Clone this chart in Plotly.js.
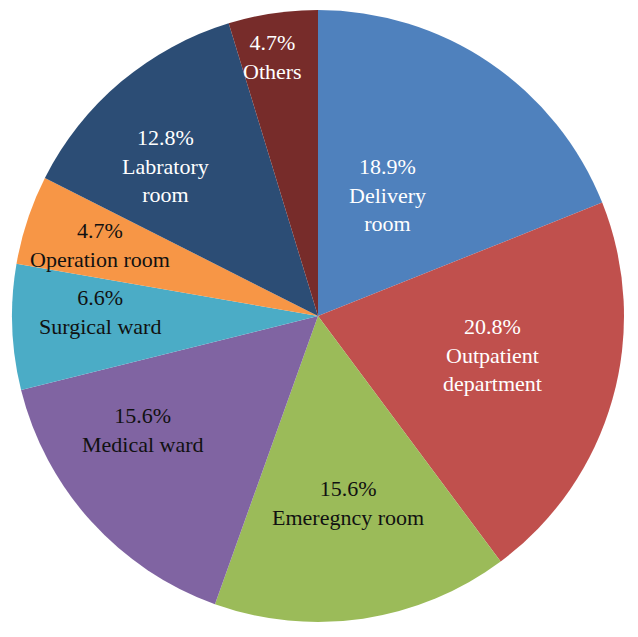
<!DOCTYPE html>
<html>
<head>
<meta charset="utf-8">
<script src="https://cdn.plot.ly/plotly-3.0.1.min.js"></script>
<style>html,body{margin:0;padding:0;background:#fff;}#chart{width:638px;height:637px;}</style>
</head>
<body>
<div id="chart"></div>
<script>
// Data
const categories = ["Delivery room", "Outpatient department", "Emeregncy room", "Medical ward", "Surgical ward", "Operation room", "Labratory room", "Others"];
const percents = [18.9, 20.8, 15.6, 15.6, 6.6, 4.7, 12.8, 4.7];
const labelText = ["Delivery<br>room", "Outpatient<br>department", "Emeregncy room", "Medical ward", "Surgical ward", "Operation room", "Labratory<br>room", "Others"];

// Styles / positions (not data)
const colors = ["#4F81BD", "#C0504D", "#9BBB59", "#8064A2", "#4BACC6", "#F79646", "#2C4D75", "#772C2A"];
const textColors = ["#ffffff", "#ffffff", "#111111", "#111111", "#111111", "#111111", "#ffffff", "#ffffff"];
const labelPx = [[388,195],[492,355],[348,503],[143,430],[100,312],[100,245],[165,166],[272,57]];
const W = 638, H = 637;
const FONT = "Liberation Serif, Times New Roman, serif";

const trace = {
  type: "pie",
  labels: categories,
  values: percents,
  sort: false,
  direction: "clockwise",
  rotation: 0,
  marker: {colors: colors, line: {width: 0}},
  textinfo: "none",
  hoverinfo: "none",
  showlegend: false,
  domain: {x: [12/W, 624/W], y: [1 - 622/H, 1 - 10/H]}
};

const annotations = categories.map((c, i) => ({
  xref: "paper", yref: "paper",
  x: labelPx[i][0] / W, y: 1 - labelPx[i][1] / H,
  xanchor: "center", yanchor: "middle",
  showarrow: false,
  align: "center",
  text: percents[i].toFixed(1) + "%<br>" + labelText[i],
  font: {family: FONT, size: 22, color: textColors[i]}
}));

const layout = {
  width: W, height: H,
  margin: {l: 0, r: 0, t: 0, b: 0},
  paper_bgcolor: "#ffffff",
  showlegend: false,
  font: {family: FONT},
  annotations: annotations
};

Plotly.newPlot("chart", [trace], layout, {displayModeBar: false, staticPlot: true});
</script>
</body>
</html>
